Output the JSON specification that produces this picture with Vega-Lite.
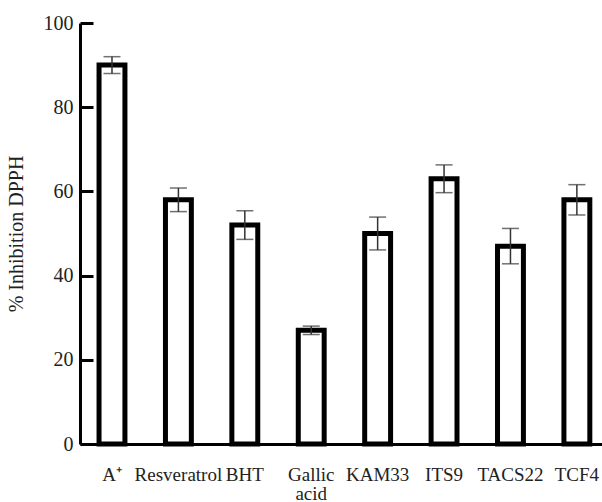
{
  "$schema": "https://vega.github.io/schema/vega-lite/v6.json",
  "autosize": "none",
  "padding": {"left": 80, "top": 23, "right": 0, "bottom": 58},
  "width": 522,
  "height": 421,
  "background": "white",
  "data": {
    "values": [
      {"name": "A⁺", "value": 90, "err": 2},
      {"name": "Resveratrol", "value": 58, "err": 2.8},
      {"name": "BHT", "value": 52, "err": 3.4},
      {"name": "Gallic acid", "value": 27, "err": 1},
      {"name": "KAM33", "value": 50, "err": 3.9},
      {"name": "ITS9", "value": 63, "err": 3.3},
      {"name": "TACS22", "value": 47, "err": 4.2},
      {"name": "TCF4", "value": 58, "err": 3.6}
    ]
  },
  "encoding": {
    "x": {
      "field": "name",
      "type": "nominal",
      "sort": null,
      "scale": {"paddingInner": 0.61, "paddingOuter": 0.235, "align": 0.61},
      "axis": {
        "title": null,
        "labelAngle": 0,
        "ticks": false,
        "labelPadding": 21,
        "labelBaseline": "top",
        "labelFont": "Liberation Serif",
        "labelFontSize": 19,
        "labelColor": "#222",
        "labelLineHeight": 19,
        "labelExpr": "datum.label == 'Gallic acid' ? ['Gallic', 'acid'] : datum.label",
        "domainColor": "black",
        "domainWidth": 3,
        "grid": false
      }
    }
  },
  "layer": [
    {
      "mark": {"type": "bar", "fill": "white", "stroke": "black", "strokeWidth": 5, "cornerRadius": 0},
      "encoding": {
        "y": {
          "field": "value",
          "type": "quantitative",
          "scale": {"domain": [0, 100], "nice": false},
          "axis": {
            "orient": "right",
            "offset": -522,
            "title": null,
            "labels": false,
            "domain": false,
            "grid": false,
            "tickCount": 5,
            "ticks": true,
            "tickSize": 13,
            "tickWidth": 3,
            "tickColor": "#000000",
            "tickOpacity": 1
          }
        }
      }
    },
    {
      "mark": {
        "type": "errorbar",
        "ticks": {"size": 17, "thickness": 1.5, "color": "#333"},
        "rule": {"strokeWidth": 1.5, "color": "#333"}
      },
      "encoding": {
        "y": {
          "field": "value",
          "type": "quantitative",
          "title": "% Inhibition DPPH",
          "axis": {
            "orient": "left",
            "title": "% Inhibition DPPH",
            "titleFont": "Liberation Serif",
            "titleFontSize": 20,
            "titleFontWeight": "normal",
            "titleColor": "#222",
            "titlePadding": 17,
            "tickCount": 5,
            "ticks": false,
            "labelPadding": 7,
            "labelFont": "Liberation Serif",
            "labelFontSize": 20,
            "labelColor": "#222",
            "domainColor": "black",
            "domainWidth": 3,
            "grid": false
          }
        },
        "yError": {"field": "err"}
      }
    }
  ],
  "resolve": {"axis": {"y": "independent"}},
  "config": {"view": {"stroke": null}}
}
